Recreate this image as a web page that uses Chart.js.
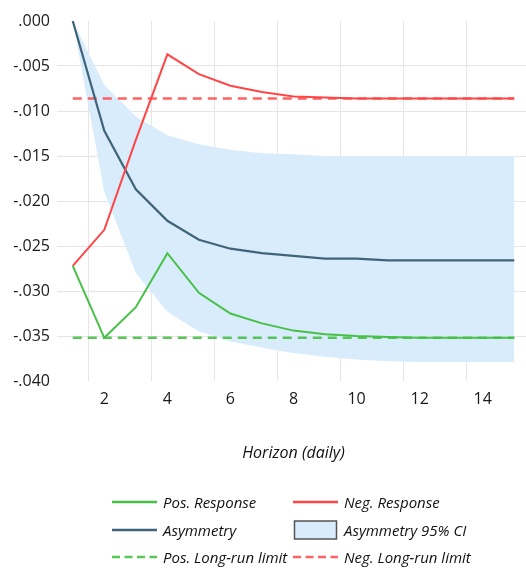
<!DOCTYPE html>
<html>
<head>
<meta charset="utf-8">
<script src="https://cdn.jsdelivr.net/npm/chart.js@4/dist/chart.umd.min.js"></script>
<style>
  html, body { margin: 0; padding: 0; background: #fff; overflow: hidden; }
  #wrap { position: relative; width: 530px; height: 573px; }
  #chartBox { position: absolute; left: 0; top: 0; width: 530px; height: 470px; }
  #legend { position: absolute; left: 0; top: 0; width: 526px; height: 573px; pointer-events: none;
            font-family: "Open Sans", sans-serif; font-style: italic; font-size: 15px; color: #111; }
  .item { position: absolute; display: flex; align-items: center; height: 22px; white-space: nowrap; }
  .item svg { margin-right: 6px; flex: none; }
</style>
</head>
<body>
<div id="wrap">
  <div id="chartBox"><canvas id="c"></canvas></div>
  <div id="legend"></div>
</div>
<script>
// Horizon steps (days)
const horizon = [1, 2, 3, 4, 5, 6, 7, 8, 9, 10, 11, 12, 13, 14, 15];

// Cumulative responses to positive and negative shocks
const posResponse = [-0.0272, -0.0352, -0.0318, -0.0258, -0.0302, -0.0325, -0.0336, -0.0344, -0.0348, -0.0350, -0.0351, -0.0352, -0.0352, -0.0352, -0.0352];
const negResponse = [-0.0272, -0.0232, -0.0132, -0.0037, -0.0059, -0.0072, -0.0079, -0.0084, -0.0085, -0.0086, -0.0086, -0.0086, -0.0086, -0.0086, -0.0086];
const asymmetry   = [0.0000, -0.0122, -0.0187, -0.0222, -0.0243, -0.0253, -0.0258, -0.0261, -0.0264, -0.0264, -0.0266, -0.0266, -0.0266, -0.0266, -0.0266];

// 95% confidence band of the asymmetry
const ciUpper = [0.0000, -0.0071, -0.0106, -0.0127, -0.0137, -0.0143, -0.0147, -0.0148, -0.0150, -0.0150, -0.0150, -0.0150, -0.0150, -0.0150, -0.0150];
const ciLower = [0.0000, -0.0190, -0.0280, -0.0323, -0.0345, -0.0356, -0.0363, -0.0369, -0.0373, -0.0376, -0.0378, -0.0379, -0.0379, -0.0379, -0.0379];

// Long-run multipliers
const posLongRun = [-0.0352, -0.0352, -0.0352, -0.0352, -0.0352, -0.0352, -0.0352, -0.0352, -0.0352, -0.0352, -0.0352, -0.0352, -0.0352, -0.0352, -0.0352];
const negLongRun = [-0.0086, -0.0086, -0.0086, -0.0086, -0.0086, -0.0086, -0.0086, -0.0086, -0.0086, -0.0086, -0.0086, -0.0086, -0.0086, -0.0086, -0.0086];

// Axis ticks
const yTicks = [0, -0.005, -0.010, -0.015, -0.020, -0.025, -0.030, -0.035, -0.040];
const xTickLabels = ['2', '4', '6', '8', '10', '12', '14'];

const GREEN = '#46c146', RED = '#ff4646', SLATE = '#3f6479', BAND = '#d9ecfc';
const GRID = '#e6e6e6', NONE = 'rgba(0,0,0,0)';
const FONT = '"Open Sans", sans-serif';

function fmt(v) {
  const r = Math.round(v * 1000) / 1000;
  const s = Math.abs(r).toFixed(3).replace(/^0/, '');
  return (r < 0 ? '-' : '') + s;
}

const datasets = [
  { label: 'Pos. Response', data: posResponse, borderColor: GREEN, borderWidth: 2, legendCol: 0, legendRow: 0 },
  { label: 'Neg. Response', data: negResponse, borderColor: RED, borderWidth: 2, legendCol: 1, legendRow: 0 },
  { label: 'Asymmetry', data: asymmetry, borderColor: SLATE, borderWidth: 2.2, legendCol: 0, legendRow: 1 },
  { label: 'ci-upper', data: ciUpper, borderColor: NONE, borderWidth: 0, backgroundColor: BAND, fill: '+1', legendSkip: true },
  { label: 'Asymmetry 95% CI', data: ciLower, borderColor: NONE, borderWidth: 0, backgroundColor: BAND, fill: false, legendBox: true, legendCol: 1, legendRow: 1 },
  { label: 'Pos. Long-run limit', data: posLongRun, borderColor: 'rgba(70,193,70,0.9)', borderWidth: 2.5, borderDash: [9, 6], legendCol: 0, legendRow: 2 },
  { label: 'Neg. Long-run limit', data: negLongRun, borderColor: 'rgba(255,70,70,0.85)', borderWidth: 2.5, borderDash: [9, 6], legendCol: 1, legendRow: 2 }
].map(d => Object.assign({ pointRadius: 0, pointHoverRadius: 0, tension: 0, fill: false }, d));

const chart = new Chart(document.getElementById('c'), {
  type: 'line',
  data: { labels: horizon.map(String), datasets },
  options: {
    responsive: true,
    maintainAspectRatio: false,
    animation: false,
    layout: { padding: { top: 21, right: 0, bottom: 0, left: 0 } },
    plugins: {
      legend: { display: false },
      tooltip: { enabled: false },
      filler: { drawTime: 'beforeDatasetsDraw' }
    },
    scales: {
      x: {
        type: 'category',
        offset: true,
        grid: {
          offset: true,
          lineWidth: 1,
          drawTicks: false,
          // vertical lines only on the boundary just before each labelled horizon
          color: ctx => (ctx.index < horizon.length && xTickLabels.includes(String(horizon[ctx.index]))) ? GRID : NONE
        },
        border: { display: false },
        ticks: {
          autoSkip: false,
          maxRotation: 0,
          padding: 9,
          color: '#1a1a1a',
          font: { family: FONT, size: 16 },
          callback: function (val) {
            const lab = this.getLabelForValue(val);
            return xTickLabels.includes(lab) ? lab : '';
          }
        },
        title: {
          display: true,
          text: 'Horizon (daily)',
          color: '#111',
          font: { family: FONT, size: 16, style: 'italic' },
          padding: { top: 0, bottom: 7 }
        },
        afterFit: s => { s.height = 89; }
      },
      y: {
        min: -0.040,
        max: 0,
        afterBuildTicks: s => { s.ticks = yTicks.map(v => ({ value: v })); },
        grid: {
          drawTicks: false,
          lineWidth: 1,
          color: ctx => (ctx.tick && (Math.abs(ctx.tick.value) < 1e-9 || Math.abs(ctx.tick.value + 0.04) < 1e-9)) ? NONE : GRID
        },
        border: { display: false },
        ticks: {
          padding: 7,
          color: '#1a1a1a',
          font: { family: FONT, size: 16 },
          callback: v => fmt(v)
        },
        afterFit: s => { s.width = 57; }
      }
    }
  }
});

// Two-column legend built from the dataset definitions
const legendEl = document.getElementById('legend');
const colX = [112, 293];
const rowY = [502, 529.5, 557];
chart.data.datasets.forEach(ds => {
  if (ds.legendSkip) return;
  const item = document.createElement('div');
  item.className = 'item';
  item.style.left = colX[ds.legendCol] + 'px';
  item.style.top = (rowY[ds.legendRow] - 11) + 'px';
  let svg;
  if (ds.legendBox) {
    svg = '<svg width="45" height="22"><rect x="1.5" y="2" width="42" height="18" fill="' + BAND + '" stroke="#555" stroke-width="1.5"/></svg>';
  } else {
    const dash = ds.borderDash ? ' stroke-dasharray="8,4.5"' : '';
    svg = '<svg width="45" height="22"><line x1="0" y1="11" x2="45" y2="11" stroke="' + ds.borderColor + '" stroke-width="2.5"' + dash + '/></svg>';
  }
  item.innerHTML = svg + '<span>' + ds.label + '</span>';
  legendEl.appendChild(item);
});
</script>
</body>
</html>
